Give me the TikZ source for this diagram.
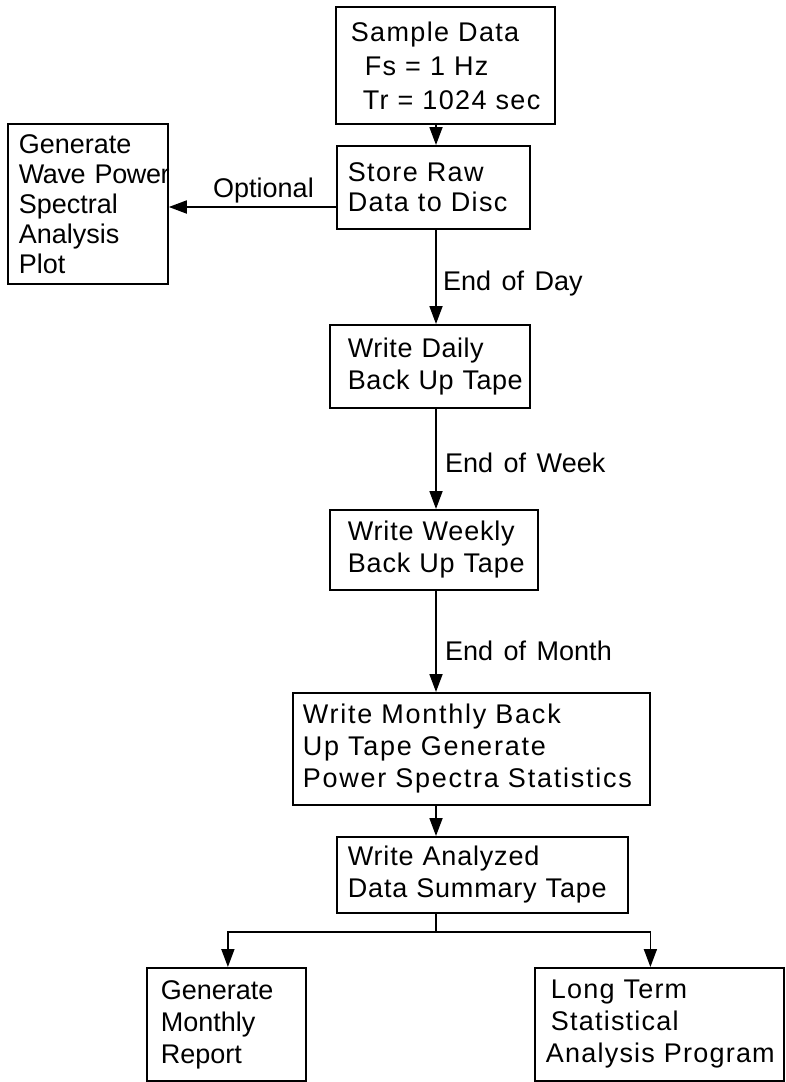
\documentclass[tikz,border=0pt]{standalone}
\usepackage{fontspec}
\setmainfont{Liberation Sans}[WordSpace=1.4]
\newfontfamily\tightfont{Liberation Sans}
\usetikzlibrary{arrows.meta}
\newcommand\bxl[1]{\mbox{#1}}
\tikzset{
  txt/.style={font=\fontsize{27}{32}\selectfont},
  box/.style={draw, line width=1.8pt, anchor=north west, align=left, inner ysep=0pt, txt},
  ls/.style={font=\fontsize{27}{32}\selectfont\addfontfeature{LetterSpace=#1}},
  conn/.style={line width=1.8pt},
  arr/.style={conn, -{Triangle[length=18pt,width=13pt]}},
  lbl/.style={txt, anchor=base west, inner sep=0pt}
}
\begin{document}
\begin{tikzpicture}[x=1pt,y=-1pt]
\useasboundingbox (0,0) rectangle (785,1082);
% boxes: at (left,top), text width = w - 2*pad
\node[box, inner xsep=15pt, text width=189pt, minimum height=117pt, font=\fontsize{27}{34}\selectfont\addfontfeature{LetterSpace=5}] (sample) at (335,6)
  {\bxl{Sample Data}\\\bxl{\hspace*{14pt}Fs = 1 Hz}\\\bxl{\hspace*{12pt}Tr = 1024 sec}};
\node[box, inner xsep=11pt, text width=171pt, minimum height=83pt, font=\fontsize{27}{30}\selectfont\addfontfeature{LetterSpace=5}] (store) at (336,145)
  {\bxl{Store Raw}\\\bxl{Data to Disc}};
\node[box, inner xsep=11pt, text width=138pt, minimum height=160pt, font=\tightfont\fontsize{27}{30}\selectfont] (gen) at (7,123)
  {\bxl{Generate}\\\bxl{\addfontfeature{LetterSpace=-1.5}Wave Power}\\\bxl{Spectral}\\\bxl{Analysis}\\\bxl{Plot}};
\node[box, ls=2, inner xsep=18pt, text width=164pt, minimum height=83pt] (daily) at (329,324)
  {\bxl{Write Daily}\\\bxl{Back Up Tape}};
\node[box, ls=3, inner xsep=18pt, text width=172pt, minimum height=80pt] (weekly) at (329,509)
  {\bxl{Write Weekly}\\\bxl{Back Up Tape}};
\node[box, ls=6.5, inner xsep=10pt, text width=337pt, minimum height=112pt] (monthly) at (292,692)
  {\bxl{Write Monthly Back}\\\bxl{Up Tape Generate}\\\bxl{Power Spectra Statistics}};
\node[box, ls=3, inner xsep=11pt, text width=269pt, minimum height=76pt] (analyzed) at (336,836)
  {\bxl{Write Analyzed}\\\bxl{Data Summary Tape}};
\node[box, inner xsep=14pt, text width=131pt, minimum height=113pt] (report) at (146,967)
  {\bxl{Generate}\\\bxl{Monthly}\\\bxl{Report}};
\node[box, ls=4.5, inner xsep=11pt, text width=227pt, minimum height=113pt] (longterm) at (534,967)
  {\bxl{\hspace*{5pt}Long Term}\\\bxl{\hspace*{5pt}Statistical}\\\bxl{Analysis Program}};
% labels
\node[lbl] (lopt) at (213,197) {Optional};
\node[lbl] (lday) at (443,290) {End of Day};
\node[lbl] (lweek) at (445,472) {End of Week};
\node[lbl] (lmonth) at (445,660) {End of Month};
% connectors
\coordinate (spine) at (436,0);
\coordinate (opt) at (0,207);
\coordinate (split) at (436,932);
\draw[arr] (sample.south -| spine) -- (store.north -| spine);
\draw[arr] (store.west |- opt) -- (gen.east |- opt);
\draw[arr] (store.south -| spine) -- (daily.north -| spine);
\draw[arr] (daily.south -| spine) -- (weekly.north -| spine);
\draw[arr] (weekly.south -| spine) -- (monthly.north -| spine);
\draw[arr] (monthly.south -| spine) -- (analyzed.north -| spine);
\draw[conn] (analyzed.south -| split) -- (split);
\draw[arr] (split) -| ([xshift=1.5pt]report.north);
\draw[arr] (split) -| ([xshift=-9pt]longterm.north);
\end{tikzpicture}
\end{document}
